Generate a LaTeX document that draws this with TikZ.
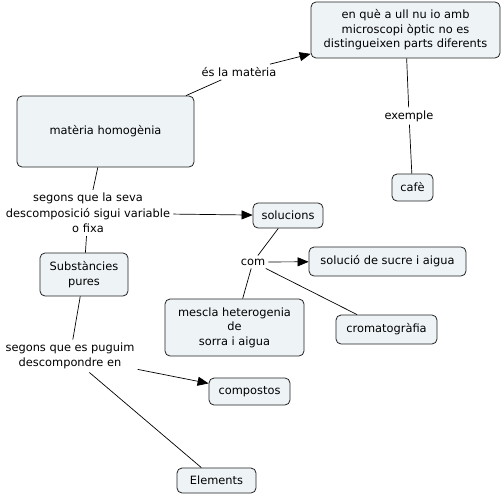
\documentclass[tikz,border=0pt]{standalone}
\usepackage{fontspec}
\setmainfont{DejaVu Sans}
\usetikzlibrary{arrows.meta}
\definecolor{boxfill}{HTML}{EEF3F6}
\definecolor{boxline}{HTML}{222222}
\tikzset{
  concept/.style={draw=boxline, line width=0.8pt, fill=boxfill, rounded corners=5pt,
    align=center, inner sep=2pt, font=\fontsize{11.4}{14.5}\selectfont},
  linklabel/.style={align=center, inner sep=3pt, font=\fontsize{11.4}{15.5}\selectfont},
  conn/.style={draw=black, line width=0.7pt},
  arr/.style={conn, -{Triangle[length=11pt,width=9pt]}}
}
\begin{document}
\begin{tikzpicture}[x=1pt,y=-1pt]
\useasboundingbox (0,0) rectangle (502,495);
% concepts
\node[concept, minimum width=189pt, minimum height=56pt] (top) at (405.5,30)
  {en què a ull nu io amb\\microscopi òptic no es\\distingueixen parts diferents};
\node[concept, minimum width=177pt, minimum height=71pt] (mh) at (105.5,131.5) {matèria homogènia};
\node[concept, minimum width=41pt, minimum height=27pt] (cafe) at (412.5,187.5) {cafè};
\node[concept, minimum width=70pt, minimum height=25pt] (sol) at (288,215.5) {solucions};
\node[concept, minimum width=88pt, minimum height=43pt] (sp) at (84,274.5) {Substàncies\\pures};
\node[concept, minimum width=157pt, minimum height=29pt] (ssa) at (387.5,261.5) {solució de sucre i aigua};
\node[concept, minimum width=139pt, minimum height=57pt] (mesc) at (234.5,327.5) {mescla heterogenia\\de\\sorra i aigua};
\node[concept, minimum width=101pt, minimum height=29pt] (crom) at (386.5,329.5) {cromatogràfia};
\node[concept, minimum width=81pt, minimum height=27pt] (comp) at (249.5,391.5) {compostos};
\node[concept, minimum width=79pt, minimum height=25pt] (elem) at (216.5,480.5) {Elements};
% link labels
\node[linklabel] (l1) at (239,72) {és la matèria};
\node[linklabel] (l2) at (409,116) {exemple};
\node[linklabel] (l3) at (88,213) {segons que la seva\\descomposició sigui variable\\o fixa};
\node[linklabel] (l4) at (253,262) {com};
\node[linklabel] (l5) at (70,356) {segons que es puguim\\descompondre en};
% connectors
\draw[conn] (mh) -- (l1);
\draw[arr] (l1) -- (top);
\draw[conn] (top) -- (l2);
\draw[conn] (l2) -- (cafe);
\draw[conn] (mh) -- (l3);
\draw[arr] (l3) -- (sol);
\draw[conn] (l3) -- (sp);
\draw[conn] (sol) -- (l4);
\draw[conn] (l4) -- (mesc);
\draw[arr] (l4) -- (ssa);
\draw[conn] (l4) -- (crom);
\draw[conn] (sp) -- (l5);
\draw[arr] (l5) -- (comp);
\draw[conn] (l5) -- (elem);
\end{tikzpicture}
\end{document}
